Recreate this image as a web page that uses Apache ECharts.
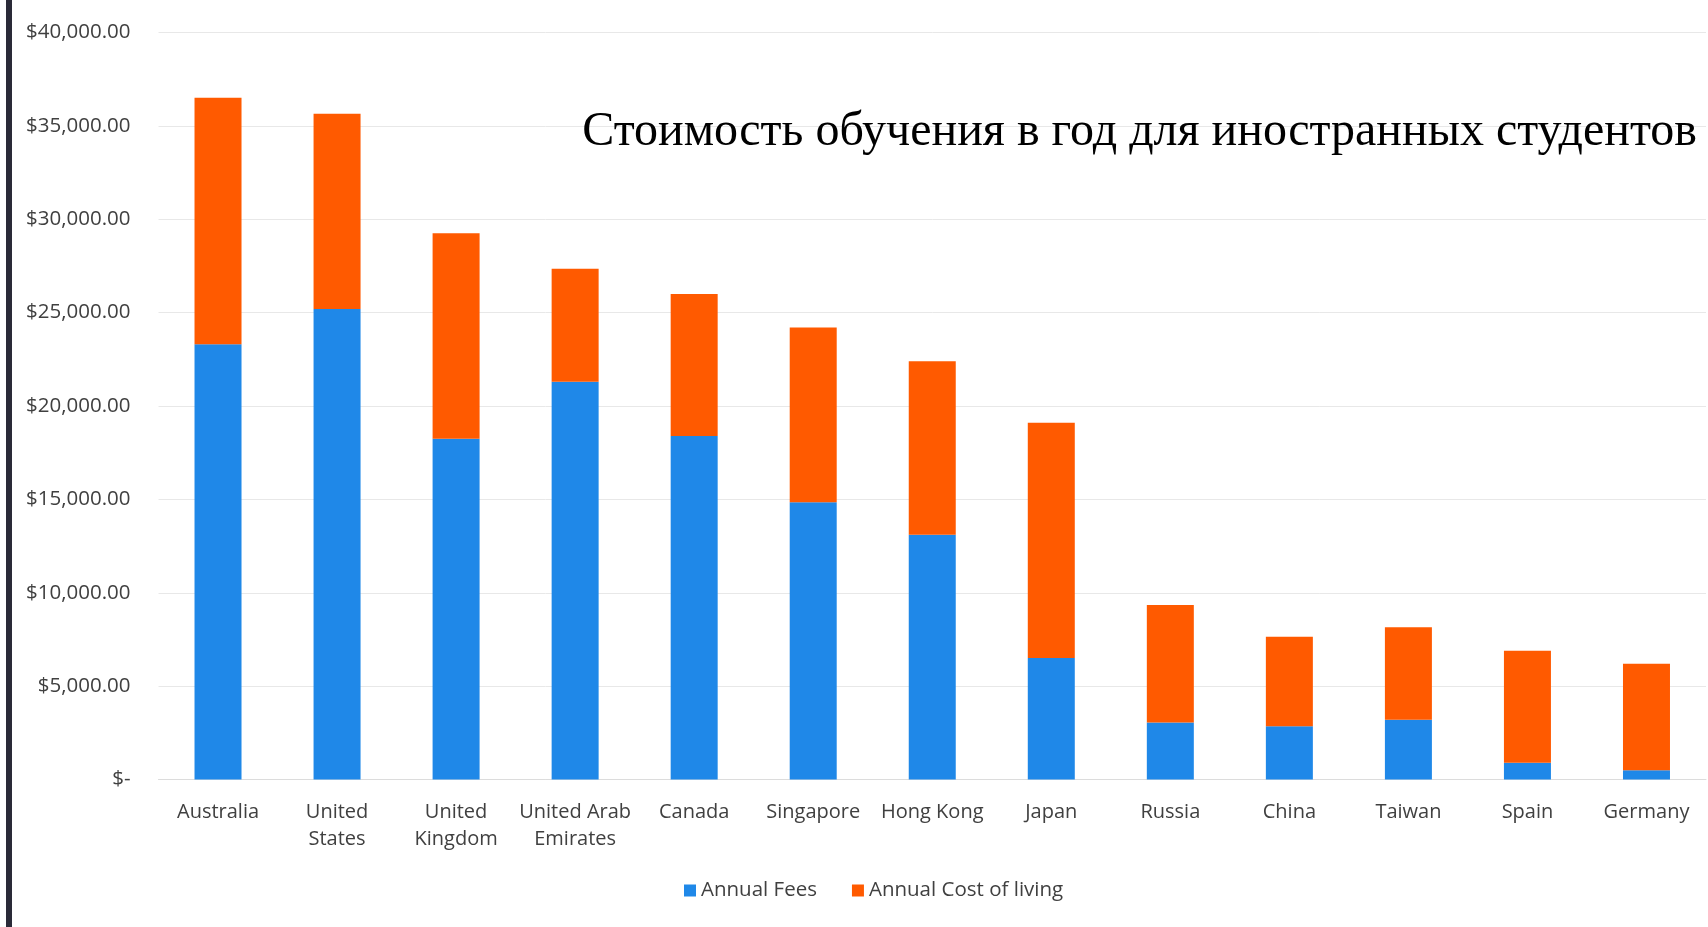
<!DOCTYPE html>
<html>
<head>
<meta charset="utf-8">
<script src="https://cdn.jsdelivr.net/npm/echarts@6/dist/echarts.min.js"></script>
<style>
html,body{margin:0;padding:0;background:#fff;}
#chart{width:1708px;height:927px;}
</style>
</head>
<body>
<div id="chart"></div>
<script>
const categories = ["Australia", "United\nStates", "United\nKingdom", "United Arab\nEmirates", "Canada", "Singapore", "Hong Kong", "Japan", "Russia", "China", "Taiwan", "Spain", "Germany"];
const annualFees = [23300, 25200, 18250, 21300, 18400, 14850, 13100, 6500, 3050, 2850, 3200, 900, 500];
const annualCostOfLiving = [13200, 10450, 11000, 6050, 7600, 9350, 9300, 12600, 6300, 4800, 4950, 6000, 5700];
const seriesNames = ["Annual Fees", "Annual Cost of living"];
const titleText = "Стоимость обучения в год для иностранных студентов";

const chart = echarts.init(document.getElementById('chart'));
const labelFont = 'Open Sans';
chart.setOption({
  backgroundColor: '#ffffff',
  animation: false,
  title: {
    text: titleText,
    right: 6,
    top: 103,
    textStyle: { fontFamily: 'Liberation Serif', fontSize: 48, fontWeight: 'normal', color: '#000000' }
  },
  graphic: [{
    type: 'rect', left: 6, top: 0,
    shape: { width: 6, height: 927 },
    style: { fill: '#2a2a38' }
  }],
  legend: {
    left: 679, top: 875,
    itemWidth: 12, itemHeight: 12, itemGap: 35,
    icon: 'rect',
    textStyle: { fontFamily: labelFont, fontSize: 20.5, color: '#404040' },
    data: seriesNames
  },
  grid: { left: 158.5, right: 2, top: 32.5, bottom: 147.5, containLabel: false },
  xAxis: {
    type: 'category',
    data: categories,
    axisTick: { show: false },
    axisLine: { lineStyle: { color: '#dcdcdc', width: 1 } },
    axisLabel: { fontFamily: labelFont, fontSize: 20, color: '#404040', margin: 19, lineHeight: 27, interval: 0 }
  },
  yAxis: {
    type: 'value', min: 0, max: 40000, interval: 5000,
    axisLine: { show: false }, axisTick: { show: false },
    splitLine: { lineStyle: { color: '#e8e8e8', width: 1 } },
    axisLabel: {
      fontFamily: labelFont, fontSize: 20.5, color: '#404040', margin: 28,
      formatter: v => v === 0 ? '$-' : '$' + v.toLocaleString('en-US', { minimumFractionDigits: 2, maximumFractionDigits: 2 })
    }
  },
  series: [
    { name: seriesNames[0], type: 'bar', stack: 'total', data: annualFees, barWidth: 47, itemStyle: { color: '#1f88e8' } },
    { name: seriesNames[1], type: 'bar', stack: 'total', data: annualCostOfLiving, barWidth: 47, itemStyle: { color: '#ff5a00' } }
  ]
});
</script>
</body>
</html>
